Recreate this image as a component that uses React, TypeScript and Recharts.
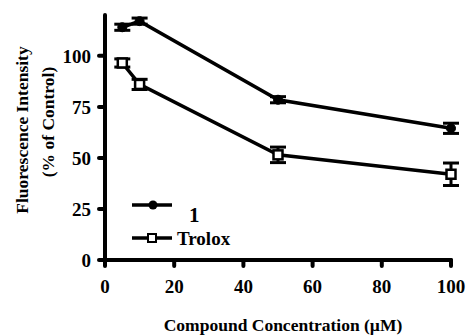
import {
  LineChart,
  Line,
  XAxis,
  YAxis,
  ErrorBar,
  Legend,
} from "recharts";

// concentrations (µM)
const concentrations = [5, 10, 50, 100];
const compound1 = [114, 117, 78.5, 64.5];
const compound1Err = [1.5, 1.5, 1.5, 2.5];
const trolox = [96.5, 86, 51.5, 42];
const troloxErr = [2, 2.5, 3.8, 5.5];
const xTicks = [0, 20, 40, 60, 80, 100];
const yTicks = [0, 25, 50, 75, 100];

const data = concentrations.map((c, i) => ({
  conc: c,
  c1: compound1[i],
  c1Err: compound1Err[i],
  trolox: trolox[i],
  troloxErr: troloxErr[i],
}));

const FONT = "'Liberation Serif', 'Times New Roman', serif";

const tickStyle = {
  fill: "#000",
  fontFamily: FONT,
  fontWeight: 700,
  fontSize: 19,
};

const SquareDot = (props: any) => {
  const { cx, cy } = props;
  if (cx == null || cy == null) return null;
  return (
    <rect
      x={cx - 4.5}
      y={cy - 4.5}
      width={9}
      height={9}
      fill="#fff"
      stroke="#000"
      strokeWidth={2.5}
    />
  );
};

const legendItems = [
  { name: "1", marker: "circle" },
  { name: "Trolox", marker: "square" },
];

function renderLegend() {
  return (
    <svg width={130} height={60} style={{ display: "block" }}>
      {legendItems.map((item, i) => {
        const y = i === 0 ? 10 : 43;
        return (
          <g key={item.name}>
            <line x1={4} x2={44} y1={y} y2={y} stroke="#000" strokeWidth={3.5} />
            {item.marker === "circle" ? (
              <circle cx={25} cy={y} r={4.5} fill="#000" />
            ) : (
              <rect x={20} y={y - 4} width={8} height={8} fill="#fff" stroke="#000" strokeWidth={2} />
            )}
            <text
              x={i === 0 ? 61 : 49}
              y={i === 0 ? 27 : 50}
              fontFamily={FONT}
              fontWeight={700}
              fontSize={i === 0 ? 21 : 19}
              fill="#000"
            >
              {item.name}
            </text>
          </g>
        );
      })}
    </svg>
  );
}

const YLabel = () => (
  <g>
    <text
      transform="translate(28,130) rotate(-90)"
      textAnchor="middle"
      fontFamily={FONT}
      fontWeight={700}
      fontSize={17.5}
      fill="#000"
    >
      Fluorescence Intensity
    </text>
    <text
      transform="translate(54,122) rotate(-90)"
      textAnchor="middle"
      fontFamily={FONT}
      fontWeight={700}
      fontSize={17.5}
      fill="#000"
    >
      (% of Control)
    </text>
  </g>
);

const XLabel = () => (
  <text
    x={283}
    y={331}
    textAnchor="middle"
    fontFamily={FONT}
    fontWeight={700}
    fontSize={17.5}
    fill="#000"
  >
    Compound Concentration (µM)
  </text>
);

export default function App() {
  return (
    <div
      style={{
        position: "absolute",
        left: 0,
        top: 0,
        background: "#fff",
        fontFamily: FONT,
      }}
    >
      <LineChart
        width={467}
        height={335}
        data={data}
        margin={{ top: 15, right: 16, bottom: 0, left: 0 }}
        style={{ fontFamily: FONT }}
      >
        <XAxis
          dataKey="conc"
          type="number"
          domain={[0, 100]}
          ticks={xTicks}
          axisLine={{ stroke: "#000", strokeWidth: 4, strokeLinecap: "round" }}
          tickLine={{ stroke: "#000", strokeWidth: 4, strokeLinecap: "round" }}
          tickSize={6}
          tickMargin={14}
          tick={tickStyle}
          height={75}
          label={<XLabel />}
        />
        <YAxis
          type="number"
          domain={[0, 120]}
          ticks={yTicks}
          axisLine={{ stroke: "#000", strokeWidth: 4, strokeLinecap: "round" }}
          tickLine={{ stroke: "#000", strokeWidth: 4, strokeLinecap: "round" }}
          tickSize={6}
          tickMargin={8}
          tick={tickStyle}
          width={105}
          label={<YLabel />}
        />
        <Legend
          layout="vertical"
          align="center"
          verticalAlign="middle"
          content={renderLegend}
          wrapperStyle={{ left: 128, top: 195, width: 130 }}
        />
        <Line
          dataKey="c1"
          name="1"
          stroke="#000"
          strokeWidth={3.5}
          dot={{ r: 4.5, fill: "#000", stroke: "#000", strokeWidth: 1 }}
          isAnimationActive={false}
        >
          <ErrorBar dataKey="c1Err" width={8} stroke="#000" strokeWidth={3} />
        </Line>
        <Line
          dataKey="trolox"
          name="Trolox"
          stroke="#000"
          strokeWidth={3.5}
          dot={<SquareDot />}
          isAnimationActive={false}
        >
          <ErrorBar dataKey="troloxErr" width={8} stroke="#000" strokeWidth={3} />
        </Line>
      </LineChart>
    </div>
  );
}
